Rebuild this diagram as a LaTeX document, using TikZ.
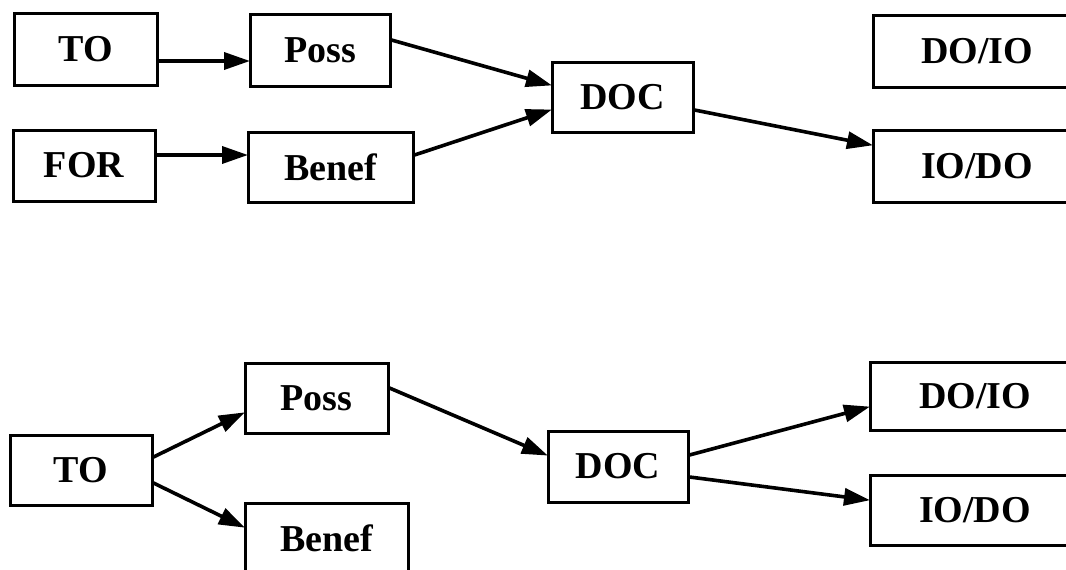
\documentclass[tikz,border=0pt]{standalone}
\usepackage{fontspec}
\setmainfont{Liberation Serif}
\usetikzlibrary{arrows.meta}
\begin{document}
\begin{tikzpicture}[x=1pt,y=-1pt,
  box/.style={draw, line width=3pt, inner sep=0pt, font=\fontsize{38}{42}\selectfont\bfseries},
  arr/.style={line width=3.6pt, -{Triangle[length=26pt,width=17pt]}, shorten >=-1.5pt}]
\path[use as bounding box] (0,0) rectangle (1066,570);
\clip (0,0) rectangle (1066,570);
% top diagram
\node[box, minimum width=143pt, minimum height=72pt] (toA) at (85.5,49) {TO};
\node[box, minimum width=140pt, minimum height=72pt] (possA) at (320,50) {Poss};
\node[box, minimum width=142pt, minimum height=71pt] (forA) at (84,165.5) {FOR};
\node[box, minimum width=165pt, minimum height=70pt] (benefA) at (330.5,167) {Benef};
\node[box, minimum width=141pt, minimum height=70pt] (docA) at (622.5,97) {DOC};
\node[box, minimum width=208pt, minimum height=72pt] (doioA) at (977,51) {DO/IO};
\node[box, minimum width=208pt, minimum height=72pt] (iodoA) at (977,166) {IO/DO};
% bottom diagram
\node[box, minimum width=142pt, minimum height=70pt] (toB) at (81,470) {TO};
\node[box, minimum width=143pt, minimum height=70pt] (possB) at (316.5,398) {Poss};
\node[box, minimum width=163pt, minimum height=70pt] (benefB) at (326.5,538) {Benef};
\node[box, minimum width=140pt, minimum height=71pt] (docB) at (618,466.5) {DOC};
\node[box, minimum width=210pt, minimum height=68pt] (doioB) at (975,396) {DO/IO};
\node[box, minimum width=210pt, minimum height=70pt] (iodoB) at (975,510) {IO/DO};
% top arrows
\draw[arr] ([yshift=-12pt]toA.east) -- ([yshift=-11pt]possA.west);
\draw[arr] ([yshift=10.5pt]forA.east) -- ([yshift=12pt]benefA.west);
\draw[arr] ([yshift=10pt]possA.east) -- ([yshift=12pt]docA.west);
\draw[arr] ([yshift=12pt]benefA.east) -- ([yshift=-13pt]docA.west);
\draw[arr] ([yshift=-13pt]docA.east) -- ([yshift=21pt]iodoA.west);
% bottom arrows
\draw[arr] ([yshift=13pt]toB.east) -- ([yshift=-15pt]possB.west);
\draw[arr] ([yshift=-13pt]toB.east) -- ([yshift=11pt]benefB.west);
\draw[arr] ([yshift=10pt]possB.east) -- ([yshift=11.5pt]docB.west);
\draw[arr] ([yshift=11.5pt]docB.east) -- ([yshift=-11pt]doioB.west);
\draw[arr] ([yshift=-10.5pt]docB.east) -- ([yshift=10pt]iodoB.west);
\end{tikzpicture}
\end{document}
